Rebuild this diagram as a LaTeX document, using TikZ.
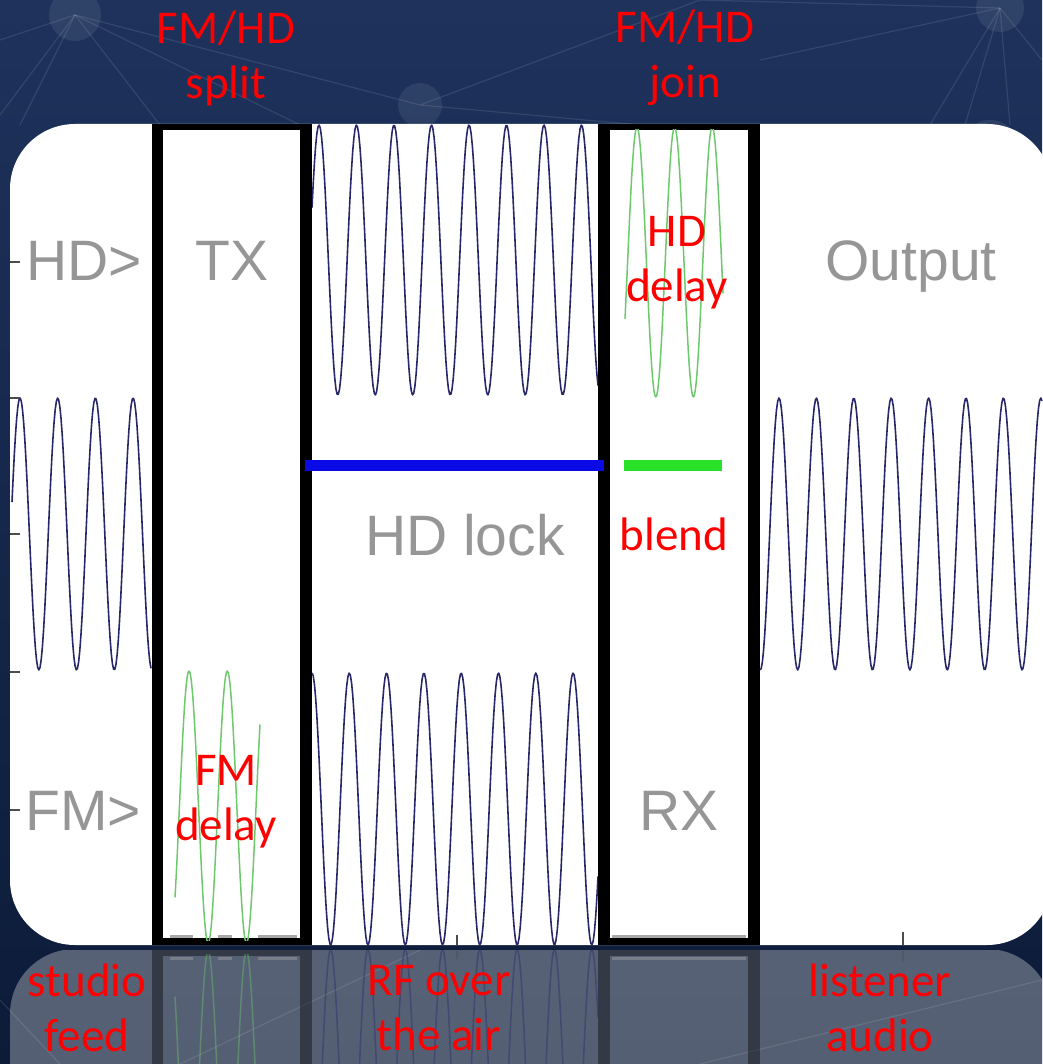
\documentclass[tikz,border=0pt]{standalone}
\usepackage{fontspec}
\setmainfont{Carlito}
\newfontfamily\greyfont{Liberation Sans}
\usetikzlibrary{calc}

\definecolor{skytop}{RGB}{30,50,92}
\definecolor{skybottom}{RGB}{12,27,56}
\definecolor{trace}{RGB}{40,40,105}
\definecolor{delaygreen}{RGB}{110,200,110}
\definecolor{lockblue}{RGB}{10,10,230}
\definecolor{blendgreen}{RGB}{40,225,40}
\definecolor{labelgrey}{RGB}{150,150,150}
\definecolor{axisgrey}{RGB}{170,170,170}

\tikzset{
  redlabel/.style={text=red, font=\fontsize{47}{55}\selectfont, align=center, inner sep=0pt},
  greylabel/.style={text=labelgrey, font=\greyfont\fontsize{57}{60}\selectfont, anchor=base, inner sep=0pt},
  carrier/.style={trace, line width=1.6pt, line join=round},
  delayed/.style={delaygreen, line width=1.5pt, line join=round},
  netline/.style={white, opacity=0.1, line width=1.2pt},
  netdot/.style={white, opacity=0.08},
  tick/.style={black!70, line width=1.3pt},
}

\newcommand\chart{%
  \fill[black] (152,124) rectangle (163,945);
  \fill[black] (300,124) rectangle (312,945);
  \fill[black] (163,124) rectangle (300,130);
  \fill[black] (163,938) rectangle (300,945);
  \fill[black] (598,124) rectangle (610,945);
  \fill[black] (748,124) rectangle (760,945);
  \fill[black] (610,124) rectangle (748,130);
  \fill[black] (610,938) rectangle (748,945);
  \draw[axisgrey, line width=3pt] (170,936) -- (193,936) (218,936) -- (232,936) (258,936) -- (297,936);
  \draw[axisgrey, line width=3pt] (612,936) -- (746,936);
  \draw[carrier] plot[domain=12:151, samples=120] (\x, {534-136*cos((\x-20)/37.7*360)});
  \begin{scope}
    \clip (312,124) rectangle (598,945);
    \draw[carrier] plot[domain=312:598, samples=240] (\x, {260-135*cos((\x-319)/37.5*360)});
    \draw[carrier] plot[domain=312:598, samples=240] (\x, {809-136*cos((\x-312)/37.3*360)});
  \end{scope}
  \draw[carrier] plot[domain=760:1042, samples=240] (\x, {534-136*cos((\x-779)/37.4*360)});
  \begin{scope}
    \clip (610,130) rectangle (748,938);
    \draw[delayed] plot[domain=625:723, samples=100] (\x, {262-135*cos((\x-637)/37.6*360)});
  \end{scope}
  \begin{scope}
    \clip (163,130) rectangle (300,940);
    \draw[delayed] plot[domain=175:260, samples=100] (\x, {807-136*cos((\x-189)/38.3*360)});
  \end{scope}
  \draw[tick] (457,935) -- (457,945);
  \draw[tick] (903,932) -- (903,945);
}

\begin{document}
\begin{tikzpicture}[x=1pt, y=-1pt]
  \useasboundingbox (0,0) rectangle (1042,1064);
  \shade[top color=skytop, bottom color=skybottom] (0,0) rectangle (1042,1064);

  \coordinate (hubL) at (75,15);
  \coordinate (hubR) at (1000,8);
  \coordinate (hubM) at (420,105);
  \foreach \p in {(0,40),(0,115),(160,125),(300,125),(420,105),(20,125)}
    \draw[netline] (hubL) -- \p;
  \foreach \p in {(930,125),(965,125),(1010,125),(1042,60),(760,60),(700,0)}
    \draw[netline] (hubR) -- \p;
  \draw[netline] (hubM) -- (700,0) (hubM) -- (640,125);
  \draw[netline] (0,1000) -- (60,1064) (700,1064) -- (1042,980) (180,1064) -- (420,950);
  \fill[netdot] (hubL) circle (26);
  \fill[netdot] (hubR) circle (24);
  \fill[netdot] (990,150) circle (30);
  \fill[netdot] (hubM) circle (22);

  \fill[white, rounded corners=65] (10,124) rectangle (1052,945);

  \begin{scope}
    \clip (0,950) rectangle (1042,1064);
    \begin{scope}[yshift=-1894pt, yscale=-1]
      \fill[white, opacity=0.3, rounded corners=65] (10,124) rectangle (1052,945);
      \begin{scope}[opacity=0.4]
        \chart
      \end{scope}
    \end{scope}
  \end{scope}

  \chart

  \foreach \t in {262,398,534,672,810}
    \draw[tick] (10,\t) -- (20,\t);

  \coordinate (locka) at (305,465);
  \coordinate (lockb) at (604,465);
  \coordinate (blenda) at (624,465);
  \coordinate (blendb) at (722,465);
  \draw[lockblue, line width=11pt] (locka) -- (lockb);
  \draw[blendgreen, line width=11pt] (blenda) -- (blendb);

  \node[greylabel] (hdin) at (84,280) {HD>};
  \node[greylabel] (fmin) at (83,830) {FM>};
  \node[greylabel] (tx) at (232,280) {TX};
  \node[greylabel] (rx) at (679,830) {RX};
  \node[greylabel] (output) at (911,280) {Output};
  \node[greylabel] (hdlock) at (465,555) {HD lock};

  \node[redlabel] (split) at (226,58) {FM/HD\\split};
  \node[redlabel] (join) at (685,58) {FM/HD\\join};
  \node[redlabel] (hddelay) at (677,263) {HD\\delay};
  \node[redlabel, anchor=base] (blend) at (674,550) {blend};
  \node[redlabel] (fmdelay) at (226,802) {FM\\delay};
  \node[redlabel] (studio) at (87,1008) {studio\\feed};
  \node[redlabel] (rf) at (439,1008) {RF over\\the air};
  \node[redlabel] (listener) at (880,1008) {listener\\audio};
\end{tikzpicture}
\end{document}
